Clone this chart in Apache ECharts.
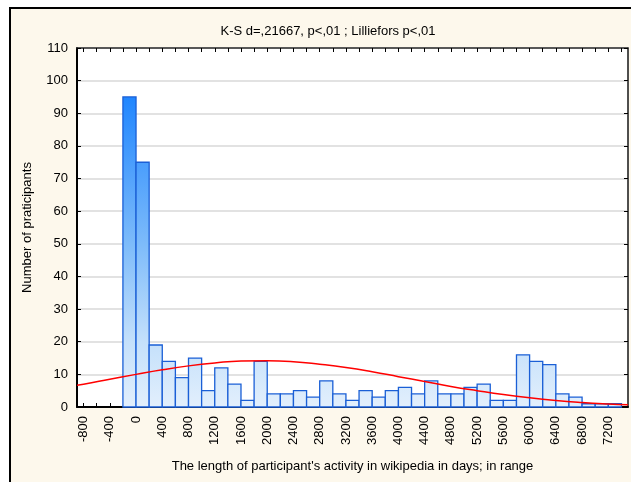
<!DOCTYPE html>
<html>
<head>
<meta charset="utf-8">
<script src="https://cdn.jsdelivr.net/npm/echarts@6/dist/echarts.min.js"></script>
<style>
  html, body { margin: 0; padding: 0; background: #fff; }
  #chart { width: 631px; height: 482px; }
</style>
</head>
<body>
<div id="chart"></div>
<script>
// lower edge of each 200-day bin
const binLower = [
  -200, 0, 200, 400, 600, 800, 1000, 1200, 1400, 1600,
  1800, 2000, 2200, 2400, 2600, 2800, 3000, 3200, 3400, 3600,
  3800, 4000, 4200, 4400, 4600, 4800, 5000, 5200, 5400, 5600,
  5800, 6000, 6200, 6400, 6600, 6800, 7000, 7200
];
const counts = [
  95, 75, 19, 14, 9, 15, 5, 12, 7, 2,
  14, 4, 4, 5, 3, 8, 4, 2, 5, 3,
  5, 6, 4, 8, 4, 4, 6, 7, 2, 2,
  16, 14, 13, 4, 3, 1, 1, 1
];
const binWidth = 200;

// fitted normal curve
const curveX = [-900, -800, -400, 0, 400, 800, 1200, 1600, 2000, 2400, 2800, 3200,
  3600, 4000, 4400, 4800, 5200, 5600, 6000, 6400, 6800, 7200, 7500];
const curveY = [6.7, 7.0, 8.5, 10.0, 11.4, 12.6, 13.5, 14.1, 14.2, 13.9, 13.1, 12.1,
  10.8, 9.3, 7.8, 6.3, 5.0, 3.8, 2.8, 2.0, 1.4, 0.95, 0.7];

const xTickLabels = [-800, -400, 0, 400, 800, 1200, 1600, 2000, 2400, 2800, 3200,
  3600, 4000, 4400, 4800, 5200, 5600, 6000, 6400, 6800, 7200];
const yMin = 0, yMax = 110, yStep = 10;
const xMin = -900, xMax = 7500;

const xTicks = [];
for (let v = -800; v <= 7400; v += 200) xTicks.push(v);

const font = '"Liberation Sans", Arial, sans-serif';

const chart = echarts.init(document.getElementById('chart'));

chart.setOption({
  backgroundColor: '#fff',
  animation: false,
  graphic: [
    {
      type: 'rect',
      z: -10,
      shape: { x: 10, y: 8, width: 1000, height: 1000 },
      style: { fill: '#FDF8EC', stroke: '#000', lineWidth: 2 }
    }
  ],
  title: {
    text: "K-S d=,21667, p<,01 ; Lilliefors p<,01",
    left: 323,
    top: 20,
    textAlign: 'center',
    textStyle: { fontFamily: font, fontSize: 13, fontWeight: 'normal', color: '#000' }
  },
  grid: {
    left: 77,
    top: 48,
    right: 3,
    bottom: 75,
    show: true,
    backgroundColor: '#fff',
    borderColor: '#444',
    borderWidth: 1
  },
  xAxis: [
    {
      type: 'value',
      min: xMin,
      max: xMax,
      position: 'bottom',
      name: "The length of participant's activity in wikipedia in days; in range",
      nameLocation: 'middle',
      nameGap: 53,
      nameTextStyle: { fontFamily: font, fontSize: 13, color: '#000' },
      axisLine: { onZero: false, lineStyle: { color: '#000', width: 2 } },
      axisTick: { inside: true, length: 4, customValues: xTicks, lineStyle: { color: '#000' } },
      axisLabel: {
        customValues: xTickLabels,
        formatter: v => String(v),
        rotate: 90,
        margin: 9,
        fontFamily: font,
        fontSize: 13,
        color: '#000'
      },
      splitLine: { show: false }
    },
    {
      type: 'value',
      min: xMin,
      max: xMax,
      position: 'top',
      axisLine: { onZero: false, lineStyle: { color: '#333', width: 1.5 } },
      axisTick: { inside: true, length: 4, customValues: xTicks, lineStyle: { color: '#000' } },
      axisLabel: { show: false },
      splitLine: { show: false }
    }
  ],
  yAxis: [
    {
      type: 'value',
      min: yMin,
      max: yMax,
      interval: yStep,
      name: 'Number of praticipants',
      nameLocation: 'middle',
      nameGap: 43,
      nameTextStyle: { fontFamily: font, fontSize: 13, color: '#000' },
      axisLine: { show: true, onZero: false, lineStyle: { color: '#000', width: 2 } },
      axisTick: { show: true, inside: true, length: 4, lineStyle: { color: '#000' } },
      axisLabel: { margin: 9, fontFamily: font, fontSize: 13, color: '#000' },
      splitLine: { show: true, lineStyle: { color: '#D8D8D8', width: 1.5 } }
    },
    {
      type: 'value',
      min: yMin,
      max: yMax,
      interval: yStep,
      position: 'right',
      axisLine: { show: true, onZero: false, lineStyle: { color: '#333', width: 1.5 } },
      axisTick: { show: true, inside: true, length: 4, lineStyle: { color: '#000' } },
      axisLabel: { show: false },
      splitLine: { show: false }
    }
  ],
  series: [
    {
      type: 'custom',
      xAxisIndex: 0,
      yAxisIndex: 0,
      data: binLower.map((x, i) => [x, x + binWidth, counts[i]]),
      renderItem: (params, api) => {
        const p0 = api.coord([api.value(0), api.value(2)]);
        const p1 = api.coord([api.value(1), 0]);
        const gTop = api.coord([0, 100])[1];
        const gBot = api.coord([0, 0])[1];
        return {
          type: 'rect',
          shape: { x: p0[0], y: p0[1], width: p1[0] - p0[0], height: p1[1] - p0[1] },
          style: {
            fill: new echarts.graphic.LinearGradient(0, gTop, 0, gBot, [
              { offset: 0, color: '#1680FF' },
              { offset: 0.5, color: '#7DBBFA' },
              { offset: 0.8, color: '#C4E0FB' },
              { offset: 1, color: '#E2EFFC' }
            ], true),
            stroke: '#1A5FD6',
            lineWidth: 1.3
          }
        };
      },
      z: 2
    },
    {
      type: 'line',
      xAxisIndex: 0,
      yAxisIndex: 0,
      data: curveX.map((x, i) => [x, curveY[i]]),
      smooth: true,
      showSymbol: false,
      lineStyle: { color: '#FF0000', width: 1.5 },
      z: 3
    }
  ]
});
</script>
</body>
</html>
